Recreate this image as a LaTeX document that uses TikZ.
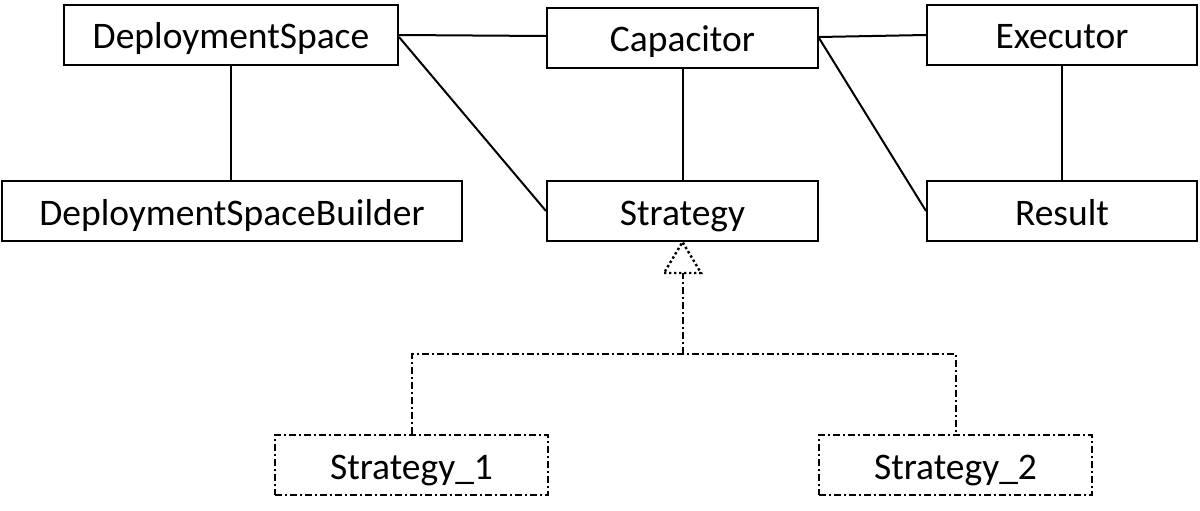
\documentclass[tikz,border=0pt]{standalone}
\usepackage{fontspec}
\setmainfont{Carlito}
\begin{document}
\begin{tikzpicture}[x=1pt,y=-1pt,
  box/.style={draw,line width=2pt,minimum height=60pt,inner sep=0pt,text height=30pt,text depth=2pt,font=\fontsize{37.5}{40}\selectfont},
  dbox/.style={box,dash pattern=on 7pt off 3pt on 2pt off 3pt},
  conn/.style={line width=2pt},
  dconn/.style={line width=2pt,dash pattern=on 7pt off 3pt on 2pt off 3pt},
  tri/.style={line width=2.4pt,dash pattern=on 2.4pt off 2.6pt}]
\useasboundingbox (0,0) rectangle (1200,511);
\node[box,minimum width=334pt] (ds) at (231,35) {DeploymentSpace};
\node[box,minimum width=271pt] (cap) at (682.5,38) {Capacitor};
\node[box,minimum width=270pt] (ex) at (1062,35) {Executor};
\node[box,minimum width=460pt] (dsb) at (232,211) {DeploymentSpaceBuilder};
\node[box,minimum width=271pt] (st) at (682.5,211) {Strategy};
\node[box,minimum width=270pt] (res) at (1062,211) {Result};
\node[dbox,minimum width=273pt] (s1) at (411.5,465) {Strategy\_1};
\node[dbox,minimum width=273pt] (s2) at (955.5,465) {Strategy\_2};
\draw[conn] (ds.north east |- 0,35) -- (cap.west |- 0,36);
\draw[conn] (ds.north east |- 0,37) -- (st.west);
\draw[conn] (ds.south) -- (dsb.north -| ds.south);
\draw[conn] (cap.south) -- (st.north);
\draw[conn] (cap.east |- 0,37) -- (ex.west |- 0,35);
\draw[conn] (cap.east |- 0,38) -- (res.west);
\draw[conn] (ex.south) -- (res.north);
\coordinate (j) at (682.5,354);
\coordinate (tb) at (682.5,273);
\coordinate (tl) at (664,273);
\coordinate (tr) at (701,273);
\draw[dconn] (s1.north) |- (j) -| (s2.north);
\draw[dconn] (j) -- (tb);
\draw[tri] (tl) -- (tr) -- (st.south) -- cycle;
\end{tikzpicture}
\end{document}
